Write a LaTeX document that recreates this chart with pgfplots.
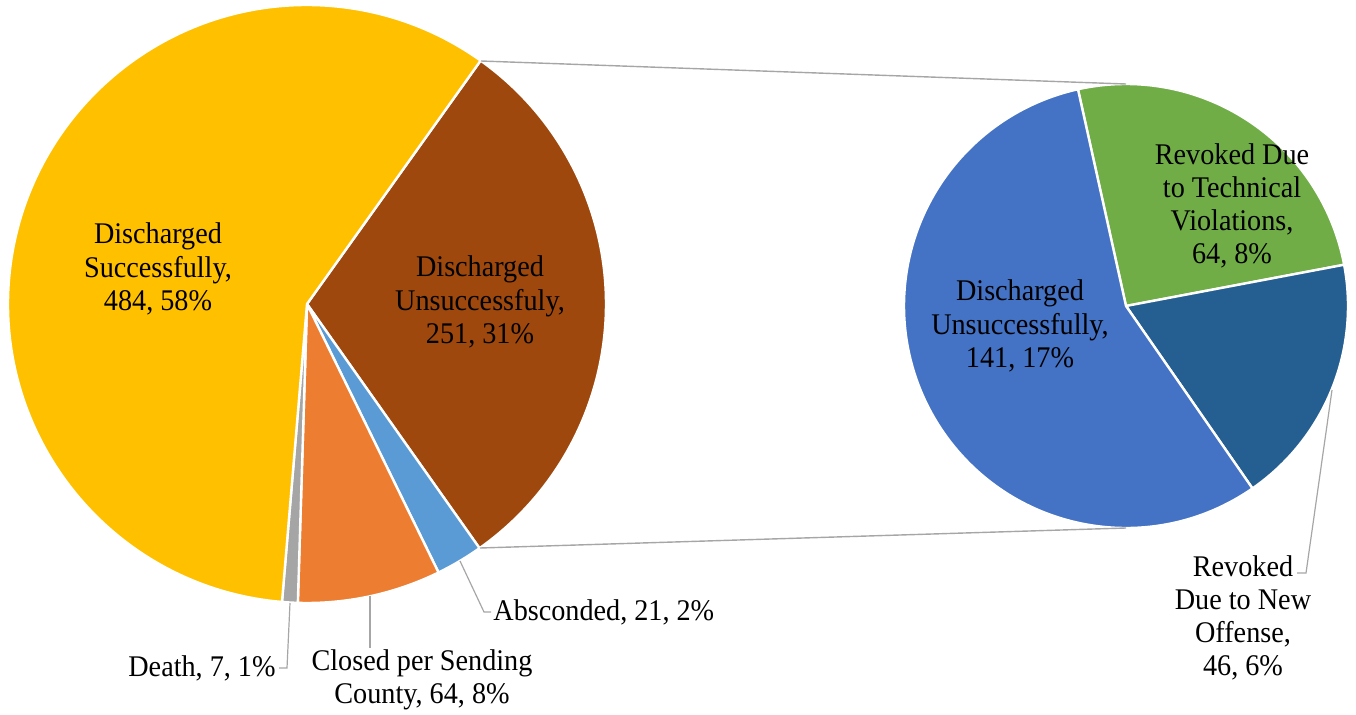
\documentclass[border=0pt]{standalone}
\usepackage{fontspec}
\setmainfont{Liberation Serif}[FakeStretch=0.94]
\usepackage{pgfplots}
\pgfplotsset{compat=1.18}
\definecolor{cSucc}{HTML}{FFC000}
\definecolor{cUns}{HTML}{9E480E}
\definecolor{cAbs}{HTML}{5B9BD5}
\definecolor{cClo}{HTML}{ED7D31}
\definecolor{cDea}{HTML}{A5A5A5}
\definecolor{cRU}{HTML}{4472C4}
\definecolor{cRT}{HTML}{70AD47}
\definecolor{cRN}{HTML}{255E91}
\definecolor{cLine}{HTML}{A6A6A6}
% data (counts)
\def\Succ{484}\def\Uns{251}\def\Abs{21}\def\Clo{64}\def\Dea{7}
\def\SU{141}\def\ST{64}\def\SN{46}
\pgfmathsetmacro\LT{\Succ+\Uns+\Abs+\Clo+\Dea}
\pgfmathsetmacro\aA{54.5}
\pgfmathsetmacro\aB{\aA-\Uns/\LT*360}
\pgfmathsetmacro\aC{\aB-\Abs/\LT*360}
\pgfmathsetmacro\aD{\aC-\Clo/\LT*360}
\pgfmathsetmacro\aE{\aD-\Dea/\LT*360}
\pgfmathsetmacro\aF{\aA-360}
\pgfmathsetmacro\RT{\SU+\ST+\SN}
\pgfmathsetmacro\bA{102.5}
\pgfmathsetmacro\bB{\bA-\ST/\RT*360}
\pgfmathsetmacro\bC{\bB-\SN/\RT*360}
\pgfmathsetmacro\bD{\bA-360}
\newcommand{\slice}[6]{% color, cx, cy, r, start, end
  \fill[#1,draw=white,line width=1.2pt,line join=round] (axis cs:#2,#3) -- ++(#5:#4) arc[start angle=#5,end angle=#6,radius=#4] -- cycle;}
\tikzset{lbl/.style={font=\rmfamily\fontsize{15}{16.6}\selectfont,align=center,text=black,inner sep=0pt}}
\begin{document}
\begin{tikzpicture}
\begin{axis}[scale only axis,width=678pt,height=357pt,
  xmin=0,xmax=1356,ymin=0,ymax=714,hide axis,clip=false]
% left pie
\slice{cUns}{307}{410}{149.5pt}{\aA}{\aB}
\slice{cAbs}{307}{410}{149.5pt}{\aB}{\aC}
\slice{cClo}{307}{410}{149.5pt}{\aC}{\aD}
\slice{cDea}{307}{410}{149.5pt}{\aD}{\aE}
\slice{cSucc}{307}{410}{149.5pt}{\aE}{\aF}
% right pie
\slice{cRT}{1126}{408}{111pt}{\bA}{\bB}
\slice{cRN}{1126}{408}{111pt}{\bB}{\bC}
\slice{cRU}{1126}{408}{111pt}{\bC}{\bD}
% connectors
\draw[cLine,line width=0.7pt] (axis cs:481,653) -- (axis cs:1126,630);
\draw[cLine,line width=0.7pt] (axis cs:480,166) -- (axis cs:1126,186);
% leader lines
\draw[cLine,line width=0.6pt] (axis cs:460,153) -- (axis cs:484,102) -- (axis cs:491,102);
\draw[cLine,line width=0.6pt] (axis cs:370,118) -- (axis cs:370,66);
\draw[cLine,line width=0.6pt] (axis cs:290,111) -- (axis cs:287,46) -- (axis cs:279,46);
\draw[cLine,line width=0.6pt] (axis cs:1332,324) -- (axis cs:1306,141) -- (axis cs:1297,141);
% labels
\node[lbl] at (axis cs:158,445) {Discharged\\Successfully,\\484, 58\%};
\node[lbl] at (axis cs:480,412) {Discharged\\Unsuccessfuly,\\251, 31\%};
\node[lbl,anchor=west] at (axis cs:493,102) {Absconded, 21, 2\%};
\node[lbl] at (axis cs:422,34) {Closed per Sending\\County, 64, 8\%};
\node[lbl,anchor=east] at (axis cs:276,46) {Death, 7, 1\%};
\node[lbl] at (axis cs:1232,508) {Revoked Due\\to Technical\\Violations,\\64, 8\%};
\node[lbl] at (axis cs:1020,388) {Discharged\\Unsuccessfully,\\141, 17\%};
\node[lbl] at (axis cs:1243,96) {Revoked\\Due to New\\Offense,\\46, 6\%};
\end{axis}
\pgfresetboundingbox
\useasboundingbox (0,0) rectangle (678pt,357pt);
\end{tikzpicture}
\end{document}
